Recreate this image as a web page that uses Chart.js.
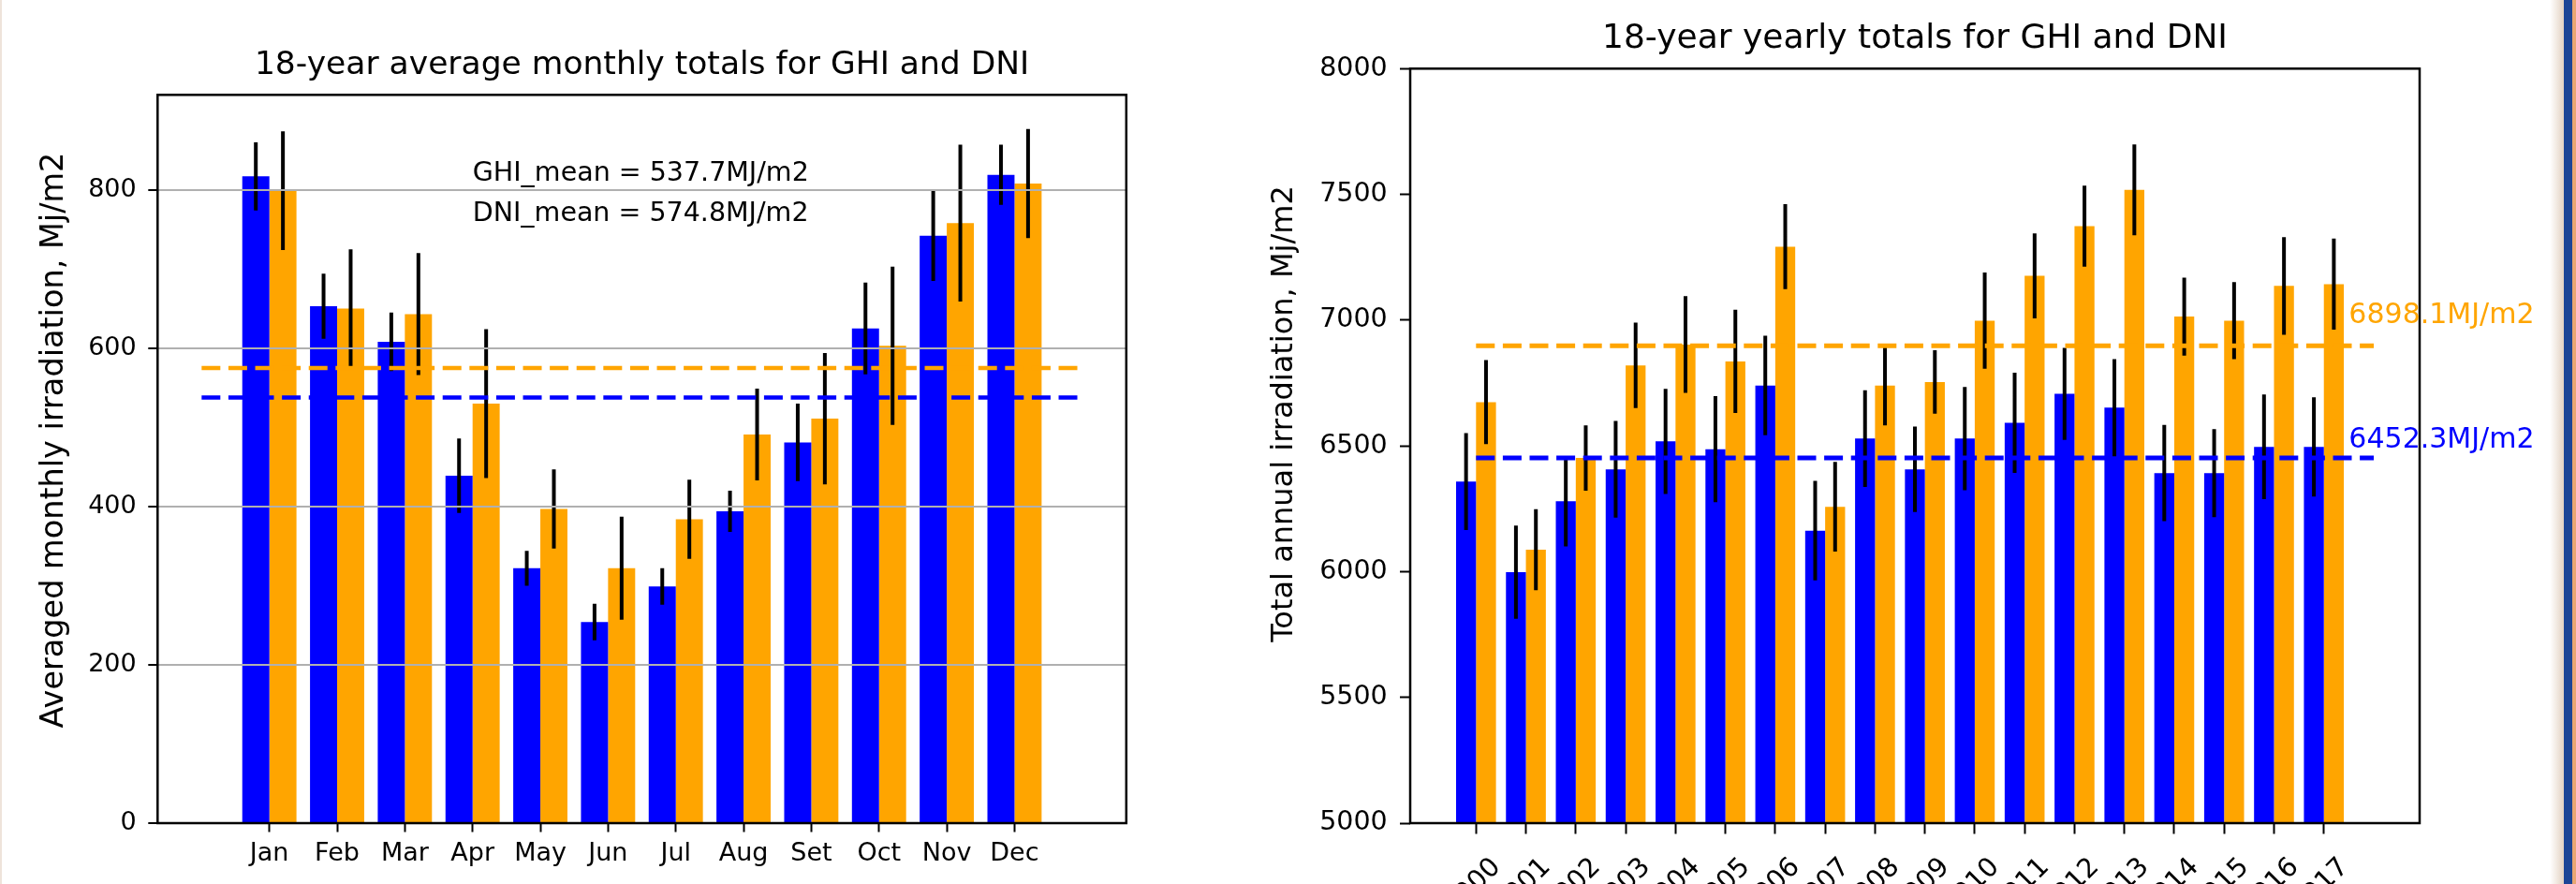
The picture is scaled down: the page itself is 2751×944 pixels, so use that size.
<!DOCTYPE html>
<html>
<head>
<meta charset="utf-8">
<script src="https://cdn.jsdelivr.net/npm/chart.js@4.4.1/dist/chart.umd.min.js"></script>
<style>
  html, body { margin: 0; padding: 0; background: #ffffff; overflow: hidden; }
  body { width: 2751px; height: 944px; position: relative; }
  canvas { position: absolute; top: 0; }
  #monthly { left: 0; }
  #yearly { left: 1300px; }
  .edge { position: absolute; top: 0; height: 944px; }
</style>
</head>
<body>
<div class="edge" style="left:0;width:2px;background:#eee3da"></div>
<canvas id="monthly" width="1300" height="944"></canvas>
<canvas id="yearly" width="1451" height="944"></canvas>
<div class="edge" style="left:2723px;width:15px;background:linear-gradient(to right,#ffffff,#e3d2c2)"></div>
<div class="edge" style="left:2738px;width:9px;background:#1c4596"></div>
<div class="edge" style="left:2747px;width:4px;background:#e9a772"></div>
<script>
// ---- Monthly averages (MJ/m2) ----
const months = ['Jan', 'Feb', 'Mar', 'Apr', 'May', 'Jun', 'Jul', 'Aug', 'Set', 'Oct', 'Nov', 'Dec'];
const ghiMonthly    = [817, 653, 608, 439, 322, 254, 299, 394, 481, 625, 742, 819];
const ghiMonthlyErr = [43, 41, 37, 47, 22, 23, 23, 26, 49, 58, 57, 38];
const dniMonthly    = [799, 650, 643, 530, 397, 322, 384, 491, 511, 603, 758, 808];
const dniMonthlyErr = [75, 75, 77, 94, 50, 65, 50, 58, 83, 100, 99, 69];
const ghiMonthlyMean = 537.7;
const dniMonthlyMean = 574.8;
const monthlyTicks = [0, 200, 400, 600, 800];

// ---- Yearly totals (MJ/m2) ----
const years = ['2000', '2001', '2002', '2003', '2004', '2005', '2006', '2007', '2008',
               '2009', '2010', '2011', '2012', '2013', '2014', '2015', '2016', '2017'];
const ghiYearly    = [6358, 5998, 6280, 6407, 6518, 6487, 6740, 6163, 6529,
                      6407, 6529, 6592, 6707, 6652, 6392, 6392, 6496, 6496];
const ghiYearlyErr = [193, 185, 180, 192, 209, 211, 198, 198, 192,
                      170, 205, 199, 183, 193, 191, 175, 208, 197];
const dniYearly    = [6674, 6087, 6452, 6820, 6903, 6836, 7292, 6258, 6740,
                      6754, 6998, 7176, 7374, 7518, 7014, 6998, 7136, 7143];
const dniYearlyErr = [167, 161, 130, 170, 192, 205, 169, 178, 158,
                      126, 191, 169, 161, 181, 155, 153, 194, 181];
const ghiYearlyMean = 6452.3;
const dniYearlyMean = 6898.1;
const yearlyTicks = [5000, 5500, 6000, 6500, 7000, 7500, 8000];

const GHI_COLOR = '#0000ff';
const DNI_COLOR = '#ffa500';
const FONT = "'DejaVu Sans', sans-serif";

Chart.defaults.font.family = FONT;
Chart.defaults.color = '#000000';

// Vertical error bars drawn right after each bar dataset
const errorBars = {
  id: 'errorBars',
  afterDatasetDraw(chart, args, opts) {
    const ds = chart.data.datasets[args.index];
    if (!ds.errors) return;
    const ctx = chart.ctx;
    const y = chart.scales.y;
    ctx.save();
    ctx.strokeStyle = '#000000';
    ctx.lineWidth = opts.width || 4;
    ctx.beginPath();
    args.meta.data.forEach((bar, i) => {
      const v = ds.data[i].y;
      const e = ds.errors[i];
      ctx.moveTo(bar.x, y.getPixelForValue(v + e));
      ctx.lineTo(bar.x, y.getPixelForValue(v - e));
    });
    ctx.stroke();
    ctx.restore();
  }
};

// Box around the plotting area
const frame = {
  id: 'frame',
  afterDraw(chart, args, opts) {
    const { left, top, right, bottom } = chart.chartArea;
    const ctx = chart.ctx;
    ctx.save();
    ctx.strokeStyle = '#000000';
    ctx.lineWidth = opts.width || 2.5;
    ctx.strokeRect(left, top, right - left, bottom - top);
    ctx.restore();
  }
};

// Vertical axis caption, rotated, placed left of the tick labels
const axisCaption = {
  id: 'axisCaption',
  afterDraw(chart, args, opts) {
    const ctx = chart.ctx;
    ctx.save();
    ctx.translate(opts.baselineX, opts.centerY);
    ctx.rotate(-Math.PI / 2);
    ctx.font = `${opts.size}px ${FONT}`;
    ctx.fillStyle = '#000000';
    ctx.textAlign = 'center';
    ctx.textBaseline = 'alphabetic';
    ctx.fillText(opts.text, 0, 0);
    ctx.restore();
  }
};

// Text placed at data coordinates
const notes = {
  id: 'notes',
  afterDraw(chart, args, opts) {
    const ctx = chart.ctx;
    const { x, y } = chart.scales;
    ctx.save();
    ctx.textAlign = 'left';
    ctx.textBaseline = 'alphabetic';
    (opts.items || []).forEach(n => {
      ctx.font = `${n.size}px ${FONT}`;
      ctx.fillStyle = n.color;
      ctx.fillText(n.text, x.getPixelForValue(n.x), y.getPixelForValue(n.y));
    });
    ctx.restore();
  }
};

function barSeries(label, values, errors, color) {
  return {
    label, errors,
    data: values.map((v, i) => ({ x: i, y: v })),
    backgroundColor: color,
    borderWidth: 0,
    categoryPercentage: 0.8,
    barPercentage: 1.0,
    order: 2
  };
}

function meanLine(label, value, x0, x1, color, width) {
  return {
    type: 'line', label,
    data: [{ x: x0, y: value }, { x: x1, y: value }],
    borderColor: color,
    borderWidth: width,
    borderDash: [20, 8.6],
    borderCapStyle: 'butt',
    pointRadius: 0,
    fill: false,
    order: 1
  };
}

// ---------- Monthly chart ----------
new Chart(document.getElementById('monthly'), {
  type: 'bar',
  data: {
    datasets: [
      barSeries('GHI', ghiMonthly, ghiMonthlyErr, GHI_COLOR),
      barSeries('DNI', dniMonthly, dniMonthlyErr, DNI_COLOR),
      meanLine('GHI mean', ghiMonthlyMean, -1, 12, GHI_COLOR, 4.5),
      meanLine('DNI mean', dniMonthlyMean, -1, 12, DNI_COLOR, 4.5)
    ]
  },
  options: {
    responsive: false,
    animation: false,
    devicePixelRatio: 1,
    layout: { padding: { left: 0, top: 0, right: 97.2, bottom: 0 } },
    plugins: {
      legend: { display: false },
      tooltip: { enabled: false },
      title: {
        display: true,
        text: '18-year average monthly totals for GHI and DNI',
        fullSize: false,
        color: '#000000',
        font: { size: 34.5, weight: 'normal' },
        padding: { top: 49.5, bottom: 10.4 }
      },
      errorBars: { width: 4 },
      frame: { width: 2.5 },
      axisCaption: { text: 'Averaged monthly irradiation, Mj/m2', size: 33.5, baselineX: 67, centerY: 470 },
      notes: {
        items: [
          { x: 3, y: 811, text: `GHI_mean = ${ghiMonthlyMean}MJ/m2`, color: '#000000', size: 28.5 },
          { x: 3, y: 761, text: `DNI_mean = ${dniMonthlyMean}MJ/m2`, color: '#000000', size: 28.5 }
        ]
      }
    },
    scales: {
      x: {
        type: 'linear',
        min: -1.65,
        max: 12.65,
        offset: false,
        afterBuildTicks: s => { s.ticks = months.map((_, i) => ({ value: i })); },
        afterFit: s => { s.height = 65; },
        ticks: {
          callback: v => months[v],
          font: { size: 27 },
          color: '#000000',
          padding: 6.8,
          maxRotation: 0,
          minRotation: 0,
          autoSkip: false
        },
        grid: { offset: false, drawOnChartArea: false, tickLength: 9.5, tickColor: '#000000', tickWidth: 2 },
        border: { display: false }
      },
      y: {
        type: 'linear',
        min: 0,
        max: 920,
        afterBuildTicks: s => { s.ticks = monthlyTicks.map(v => ({ value: v })); },
        afterFit: s => { s.width = 168.3; },
        ticks: { callback: v => String(v), font: { size: 27 }, color: '#000000', padding: 12.6 },
        grid: { color: '#b0b0b0', lineWidth: 2, tickColor: '#000000', tickWidth: 2, tickLength: 10, z: 1 },
        border: { display: false }
      }
    }
  },
  plugins: [errorBars, frame, axisCaption, notes]
});

// ---------- Yearly chart ----------
new Chart(document.getElementById('yearly'), {
  type: 'bar',
  data: {
    datasets: [
      barSeries('GHI', ghiYearly, ghiYearlyErr, GHI_COLOR),
      barSeries('DNI', dniYearly, dniYearlyErr, DNI_COLOR),
      meanLine('GHI mean', ghiYearlyMean, 0, 18, GHI_COLOR, 5),
      meanLine('DNI mean', dniYearlyMean, 0, 18, DNI_COLOR, 5)
    ]
  },
  options: {
    responsive: false,
    animation: false,
    devicePixelRatio: 1,
    layout: { padding: { left: 0, top: 0, right: 167, bottom: 0 } },
    plugins: {
      legend: { display: false },
      tooltip: { enabled: false },
      title: {
        display: true,
        text: '18-year yearly totals for GHI and DNI',
        fullSize: false,
        color: '#000000',
        font: { size: 36, weight: 'normal' },
        padding: { top: 20.5, bottom: 9.6 }
      },
      errorBars: { width: 4 },
      frame: { width: 2.5 },
      axisCaption: { text: 'Total annual irradiation, Mj/m2', size: 32, baselineX: 80, centerY: 442 },
      notes: {
        items: [
          { x: 17.5, y: 6988, text: `${dniYearlyMean}MJ/m2`, color: DNI_COLOR, size: 30 },
          { x: 17.5, y: 6492, text: `${ghiYearlyMean}MJ/m2`, color: GHI_COLOR, size: 30 }
        ]
      }
    },
    scales: {
      x: {
        type: 'linear',
        min: -1.32,
        max: 18.92,
        offset: false,
        afterBuildTicks: s => { s.ticks = years.map((_, i) => ({ value: i })); },
        afterFit: s => { s.height = 65; },
        ticks: {
          callback: v => years[v],
          font: { size: 28.5 },
          color: '#000000',
          padding: 19,
          minRotation: 45,
          maxRotation: 45,
          labelOffset: 22,
          autoSkip: false
        },
        grid: { offset: false, drawOnChartArea: false, tickLength: 11.5, tickColor: '#000000', tickWidth: 2 },
        border: { display: false }
      },
      y: {
        type: 'linear',
        min: 5000,
        max: 8000,
        afterBuildTicks: s => { s.ticks = yearlyTicks.map(v => ({ value: v })); },
        afterFit: s => { s.width = 206; },
        ticks: { callback: v => String(v), font: { size: 28.5 }, color: '#000000', padding: 13.3 },
        grid: { drawOnChartArea: false, tickColor: '#000000', tickWidth: 2, tickLength: 11 },
        border: { display: false }
      }
    }
  },
  plugins: [errorBars, frame, axisCaption, notes]
});
</script>
</body>
</html>
